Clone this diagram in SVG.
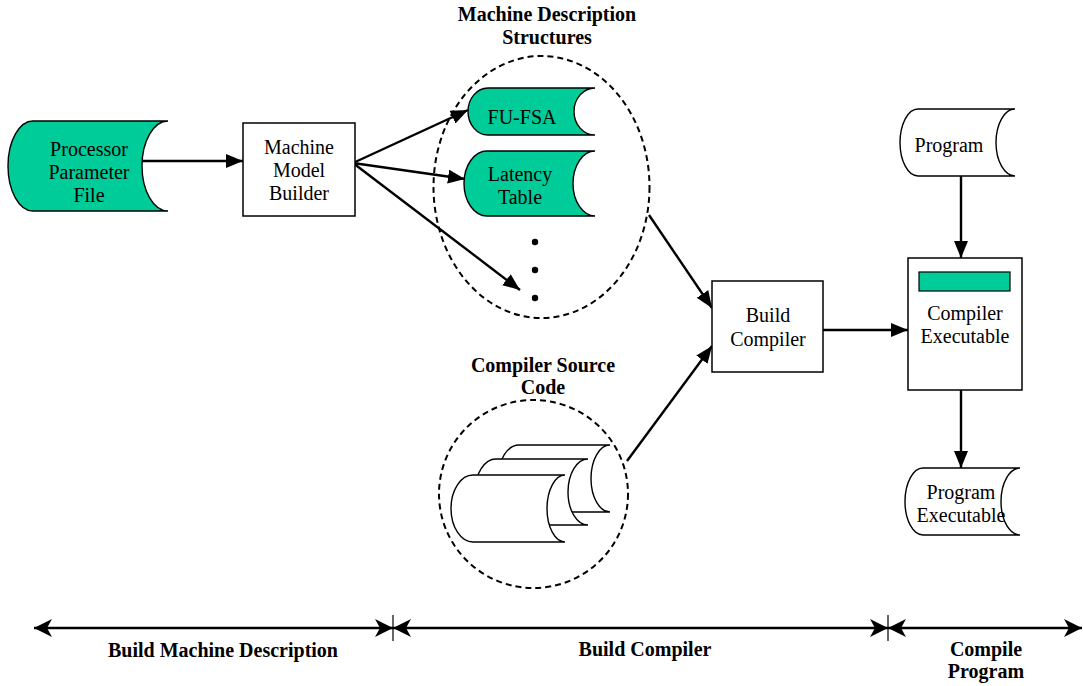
<svg xmlns="http://www.w3.org/2000/svg" width="1083" height="686" viewBox="0 0 1083 686">
  <defs>
    <style>
      .txt { font-family: "Liberation Serif", "Times New Roman", serif; font-size: 20px; fill: #000; text-anchor: middle; }
      .bold { font-weight: bold; }
      .store { stroke: #000; stroke-width: 1.4; }
      .green { fill: #00cc99; }
      .white { fill: #fff; }
      .box { fill: #fff; stroke: #000; stroke-width: 1.5; }
      .group { fill: none; stroke: #000; stroke-width: 2; stroke-dasharray: 6 4; }
      .flow { fill: none; stroke: #000; stroke-width: 2.4; marker-end: url(#tri); }
      .span { fill: none; stroke: #000; stroke-width: 2.6; marker-start: url(#barb); marker-end: url(#barb); }
      .tick { stroke: #000; stroke-width: 1.2; }
    </style>
    <marker id="tri" markerUnits="userSpaceOnUse" markerWidth="18" markerHeight="15" refX="17" refY="7" orient="auto">
      <path d="M0,0 L17,7 L0,14 Z" fill="#000"/>
    </marker>
    <marker id="barb" markerUnits="userSpaceOnUse" markerWidth="20" markerHeight="20" refX="18" refY="10" orient="auto-start-reverse">
      <path d="M18,10 L0,1 L5,10 L0,19 Z" fill="#000"/>
    </marker>
  </defs>

  <!-- phase timeline -->
  <g id="timeline">
    <line class="span" x1="34" y1="628" x2="393" y2="628"/>
    <line class="span" x1="393" y1="628" x2="888" y2="628"/>
    <line class="span" x1="888" y1="628" x2="1082" y2="628"/>
    <line class="tick" x1="393" y1="615" x2="393" y2="641"/>
    <line class="tick" x1="888" y1="615" x2="888" y2="641"/>
    <text class="txt bold" x="223" y="657">Build Machine Description</text>
    <text class="txt bold" x="645" y="656">Build Compiler</text>
    <text class="txt bold" x="986" y="656">Compile</text>
    <text class="txt bold" x="986" y="678">Program</text>
  </g>

  <!-- connectors -->
  <g id="connectors">
    <line class="flow" x1="142" y1="161" x2="243" y2="161"/>
    <line class="flow" x1="353" y1="163" x2="468" y2="110"/>
    <line class="flow" x1="353" y1="163" x2="465" y2="179"/>
    <line class="flow" x1="353" y1="163" x2="520" y2="290"/>
    <line class="flow" x1="649" y1="215" x2="712" y2="308"/>
    <line class="flow" x1="627" y1="461" x2="712" y2="346"/>
    <line class="flow" x1="823" y1="330" x2="908" y2="330"/>
    <line class="flow" x1="961" y1="176" x2="961" y2="258"/>
    <line class="flow" x1="961" y1="390" x2="961" y2="468"/>
  </g>

  <!-- input parameter file -->
  <g id="processor-parameter-file">
    <path class="store green" d="M33,121 L168,121 A26,45 0 0 0 168,211 L33,211 A25,45 0 0 1 33,121 Z"/>
    <text class="txt" x="89" y="156">Processor</text>
    <text class="txt" x="89" y="179">Parameter</text>
    <text class="txt" x="89" y="202">File</text>
  </g>

  <g id="machine-model-builder">
    <rect class="box" x="243" y="123" width="112" height="93"/>
    <text class="txt" x="299" y="154">Machine</text>
    <text class="txt" x="299" y="177">Model</text>
    <text class="txt" x="299" y="200">Builder</text>
  </g>

  <!-- machine description structures -->
  <g id="machine-description-structures">
    <ellipse class="group" cx="541.5" cy="187" rx="108" ry="131"/>
    <text class="txt bold" x="547" y="21">Machine Description</text>
    <text class="txt bold" x="547" y="44">Structures</text>
  </g>

  <g id="fu-fsa">
    <path class="store green" d="M488,88 L595,88 A21,23.5 0 0 0 595,135 L488,135 A20,23.5 0 0 1 488,88 Z"/>
    <text class="txt" x="522" y="124">FU-FSA</text>
  </g>

  <g id="latency-table">
    <path class="store green" d="M487,151 L595,151 A22,32.5 0 0 0 595,216 L487,216 A23,32.5 0 0 1 487,151 Z"/>
    <text class="txt" x="520" y="181">Latency</text>
    <text class="txt" x="520" y="204">Table</text>
  </g>

  <g id="more-structures">
    <circle cx="535" cy="242" r="3.2" fill="#000"/>
    <circle cx="535" cy="270" r="3.2" fill="#000"/>
    <circle cx="535" cy="298" r="3.2" fill="#000"/>
  </g>

  <!-- compiler source code -->
  <g id="compiler-source-code">
    <ellipse class="group" cx="533.5" cy="494" rx="94.5" ry="94"/>
    <text class="txt bold" x="543" y="372">Compiler Source</text>
    <text class="txt bold" x="543" y="394">Code</text>
    <path class="store white" d="M519,445 L610,445 A19,33.5 0 0 0 610,512 L519,512 A21,33.5 0 0 1 519,445 Z"/>
    <path class="store white" d="M496,459 L588,459 A20,33 0 0 0 588,525 L496,525 A21,33 0 0 1 496,459 Z"/>
    <path class="store white" d="M473,475 L565,475 A18,33.5 0 0 0 565,542 L473,542 A22,33.5 0 0 1 473,475 Z"/>
  </g>

  <g id="build-compiler">
    <rect class="box" x="712" y="281" width="111" height="91"/>
    <text class="txt" x="768" y="322">Build</text>
    <text class="txt" x="768" y="346">Compiler</text>
  </g>

  <g id="program">
    <path class="store white" d="M918,109 L1015,109 A19,33.5 0 0 0 1015,176 L918,176 A18,33.5 0 0 1 918,109 Z"/>
    <text class="txt" x="949" y="152">Program</text>
  </g>

  <g id="compiler-executable">
    <rect class="box" x="908" y="258" width="114" height="132"/>
    <rect x="919" y="272" width="91" height="19" fill="#00cc99" stroke="#000" stroke-width="1.2"/>
    <text class="txt" x="965" y="320">Compiler</text>
    <text class="txt" x="965" y="343">Executable</text>
  </g>

  <g id="program-executable">
    <path class="store white" d="M923,468 L1020,468 A19,33.5 0 0 0 1020,535 L923,535 A18,33.5 0 0 1 923,468 Z"/>
    <text class="txt" x="961" y="499">Program</text>
    <text class="txt" x="961" y="522">Executable</text>
  </g>
</svg>
